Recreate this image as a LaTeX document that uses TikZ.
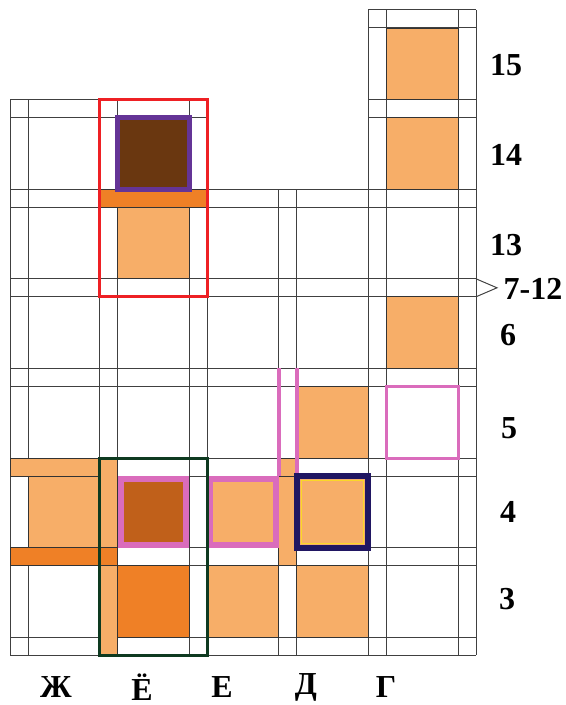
\documentclass[tikz,border=0pt]{standalone}
\usepackage{fontspec}
\setmainfont{Liberation Serif}
\usetikzlibrary{positioning}
\definecolor{lightor}{RGB}{247,174,104}
\definecolor{brightor}{RGB}{239,128,38}
\definecolor{midbrown}{RGB}{192,96,26}
\definecolor{darkbrown}{RGB}{106,55,16}
\definecolor{boxpurple}{RGB}{100,52,150}
\definecolor{boxpink}{RGB}{218,108,188}
\definecolor{boxnavy}{RGB}{32,22,98}
\definecolor{boxred}{RGB}{238,32,36}
\definecolor{boxgreen}{RGB}{14,58,32}
\definecolor{boxyellow}{RGB}{250,215,40}

\begin{document}
\begin{tikzpicture}[
        x=0.5pt, y=-0.5pt,
        grid/.style={black!75, line width=0.5pt},
        cellbox/.style={fill=#1, draw=black!80, line width=0.4pt},
        frame/.style={draw=#1, line width=1.5pt},
        lab/.style={font=\fontsize{16}{19}\selectfont\bfseries, inner sep=0pt}
    ]
        \useasboundingbox (0,0) rectangle (566,705);

        % grid lines
        \foreach \x in {10,28,99.6,117.6,189.2,207.2}
            \draw[grid] (\x,99.6) -- (\x,655.2);
        \foreach \x in {278.8,296.8}
            \draw[grid] (\x,189.2) -- (\x,655.2);
        \foreach \x in {368.4,386.4,458,476}
            \draw[grid] (\x,10) -- (\x,655.2);
        \foreach \y in {10,28}
            \draw[grid] (368.4,\y) -- (476,\y);
        \foreach \y in {99.6,117.6} {
            \draw[grid] (10,\y) -- (207.2,\y);
            \draw[grid] (368.4,\y) -- (476,\y);
        }
        \foreach \y in {189.2,207.2,278.8,296.8,368.4,386.4,458,476,547.6,565.6,637.2,655.2}
            \draw[grid] (10,\y) -- (476,\y);

        % filled cells
        \foreach \k/\t/\c in {4/0/lightor, 4/1/lightor, 4/3/lightor, 1/2/lightor,
                3/4/lightor, 0/5/lightor, 2/5/lightor, 3/5/lightor, 1/5/midbrown,
                1/1/darkbrown, 1/6/brightor, 2/6/lightor, 3/6/lightor}
            \draw[cellbox=\c] ({28+89.6*\k},{28+89.6*\t}) rectangle ({99.6+89.6*\k},{99.6+89.6*\t});

        % filled strips
        \draw[cellbox=brightor] (99.6,189.2) rectangle (207.2,207.2);
        \draw[cellbox=lightor] (10,458) rectangle (99.6,476);
        \draw[cellbox=lightor] (99.6,458) rectangle (117.6,655.2);
        \draw[cellbox=brightor] (10,547.6) rectangle (117.6,565.6);
        \draw[cellbox=lightor] (278.8,458) rectangle (296.8,476);
        \draw[cellbox=lightor] (278.8,476) rectangle (296.8,565.6);

        % coloured outlines
        \draw[boxpurple, line width=2.5pt] (117.6,117.6) rectangle (189.2,189.2);
        \draw[boxpink, line width=3pt] (120.6,479) rectangle (186.2,544.6);
        \draw[boxpink, line width=3pt] (210.2,479) rectangle (275.8,544.6);
        \draw[boxpink, line width=2pt] (278.8,368.4) -- (278.8,476);
        \draw[boxpink, line width=2pt] (296.8,368.4) -- (296.8,476);
        \draw[boxpink, line width=1.5pt] (386.4,386.4) rectangle (458,458);
        \draw[boxnavy, line width=3pt] (296.8,476) rectangle (368.4,547.6);
        \draw[boxyellow, line width=0.5pt] (301.5,480.5) rectangle (363.7,543.1);
        \draw[frame=boxred] (99.6,99.6) rectangle (207.2,296.8);
        \draw[frame=boxgreen] (99.6,458) rectangle (207.2,655.2);

        % pointer to the folded rows
        \draw[grid] (476,278.8) -- (497,287.8) -- (476,296.8);

        % row labels
        \node[lab] (r15) at (506,65) {15};
        \node[lab] (r14) at (506,155) {14};
        \node[lab] (r13) at (506,245) {13};
        \node[lab] (r712) at (533,289) {7-12};
        \node[lab] (r6) at (508,335) {6};
        \node[lab] (r5) at (509,428) {5};
        \node[lab] (r4) at (508,512) {4};
        \node[lab] (r3) at (507,599) {3};

        % column labels
        \node[lab] (czhe) at (56,687) {Ж};
        \node[lab] (cyo) at (142,687) {Ё};
        \node[lab] (cye) at (222,687) {Е};
        \node[lab] (cde) at (306,687) {Д};
        \node[lab] (cge) at (386,687) {Г};
    \end{tikzpicture}
\end{document}
